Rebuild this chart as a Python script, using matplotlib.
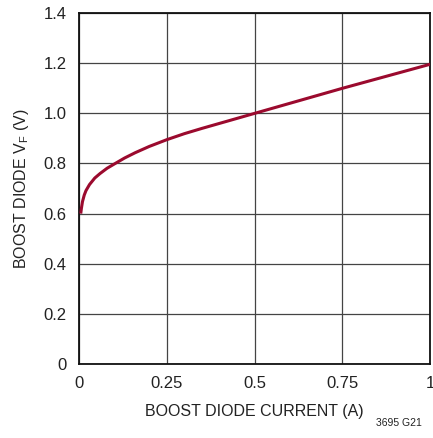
import matplotlib
matplotlib.use("Agg")
import matplotlib.pyplot as plt
from matplotlib import font_manager

# values
current = [0.005, 0.007, 0.010, 0.015, 0.020, 0.030, 0.045, 0.060, 0.080,
           0.103, 0.13, 0.16, 0.20, 0.25, 0.30, 0.35, 0.40, 0.45, 0.50,
           0.625, 0.75, 0.875, 1.0]
vf = [0.600, 0.622, 0.648, 0.674, 0.692, 0.716, 0.742, 0.760, 0.781,
      0.800, 0.822, 0.843, 0.868, 0.895, 0.919, 0.940, 0.960, 0.980, 1.000,
      1.050, 1.100, 1.148, 1.196]

xticks = [0, 0.25, 0.5, 0.75, 1]
xticklabels = ["0", "0.25", "0.5", "0.75", "1"]
yticks = [0, 0.2, 0.4, 0.6, 0.8, 1.0, 1.2, 1.4]
yticklabels = ["0", "0.2", "0.4", "0.6", "0.8", "1.0", "1.2", "1.4"]

names = {f.name for f in font_manager.fontManager.ttflist}
fam = "Liberation Sans Narrow" if "Liberation Sans Narrow" in names else "Liberation Sans"
plt.rcParams['font.family'] = [fam, 'DejaVu Sans']

fig = plt.figure(figsize=(4.33, 4.38), dpi=100)
ax = fig.add_axes([0.1824, 0.169, 0.811, 0.801])

ax.plot(current, vf, color="#9b0a2e", lw=2.2, solid_capstyle="butt",
        solid_joinstyle="round", zorder=3)

ax.set_xlim(0, 1)
ax.set_ylim(0, 1.4)
ax.set_xticks(xticks)
ax.set_xticklabels(xticklabels)
ax.set_yticks(yticks)
ax.set_yticklabels(yticklabels)
ax.tick_params(length=0, labelsize=12, pad=9, colors="#222222")
ax.grid(True, color="#444444", lw=0.9)
for s in ax.spines.values():
    s.set_linewidth(1.3)
    s.set_color("#111111")

ax.set_xlabel("BOOST DIODE CURRENT (A)", fontsize=11.5, color="#222222", labelpad=9)
ax.set_ylabel("BOOST DIODE V$_\\mathregular{F}$ (V)", fontsize=11.5, color="#222222", labelpad=9)

fig.text(0.975, 0.034, "3695 G21", fontsize=7.5, ha="right", va="center", color="#222222")

fig.savefig("out.png", dpi=100)
